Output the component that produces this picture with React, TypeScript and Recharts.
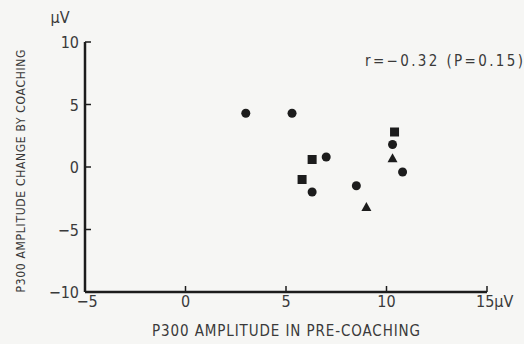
import { ScatterChart, Scatter, XAxis, YAxis } from "recharts";

// values (µV)
const circleX = [3.0, 5.3, 7.0, 6.3, 8.5, 10.3, 10.8];
const circleY = [4.3, 4.3, 0.8, -2.0, -1.5, 1.8, -0.4];
const squareX = [6.3, 5.8, 10.4];
const squareY = [0.6, -1.0, 2.8];
const triangleX = [9.0, 10.3];
const triangleY = [-3.2, 0.7];

const xTicks = [-5, 0, 5, 10, 15];
const yTicks = [-10, -5, 0, 5, 10];

const xTitle = "P300 AMPLITUDE IN PRE-COACHING";
const yTitle = "P300 AMPLITUDE CHANGE BY COACHING";
const unit = "μV";
const note = "r=−0.32 (P=0.15)";

const toPoints = (xs: number[], ys: number[]) => xs.map((x, i) => ({ x, y: ys[i] }));

const INK = "#1c1c1c";
const TEXT = "#3a3a3a";
const FONT = "'Liberation Sans Narrow', 'DejaVu Sans Condensed', 'Arial Narrow', 'Liberation Sans', sans-serif";
const fmt = (v: number) => (v < 0 ? `−${Math.abs(v)}` : `${v}`);

const XTick = (props: any) => {
  const { x, y, payload } = props;
  const axisY = y - 10;
  const v = payload.value;
  return (
    <g>
      {v !== -5 && <line x1={x} x2={x} y1={axisY} y2={axisY - 6} stroke={INK} strokeWidth={1.5} />}
      <text x={v === 15 ? x - 11 : x + (v === -5 ? 2 : 0)} y={axisY + 15} textAnchor={v === 15 ? "start" : "middle"}
        fill={TEXT} fontSize={16} fontFamily={FONT}>
        {fmt(v)}{v === 15 ? unit : ""}
      </text>
    </g>
  );
};

const YTick = (props: any) => {
  const { x, y, payload } = props;
  const axisX = x + 10;
  const v = payload.value;
  return (
    <g>
      {v !== -10 && <line x1={axisX} x2={axisX + 6} y1={y} y2={y} stroke={INK} strokeWidth={1.5} />}
      <text x={axisX - 6} y={y + 6} textAnchor="end" fill={TEXT} fontSize={16} fontFamily={FONT}>
        {fmt(v)}
      </text>
    </g>
  );
};

const Dot = (p: any) => <circle cx={p.cx} cy={p.cy} r={4.5} fill={INK} />;
const Square = (p: any) => <rect x={p.cx - 4.5} y={p.cy - 4.5} width={9} height={9} fill={INK} />;
const Tri = (p: any) => (
  <polygon points={`${p.cx},${p.cy - 5} ${p.cx + 5},${p.cy + 4} ${p.cx - 5},${p.cy + 4}`} fill={INK} />
);

export default function App() {
  return (
    <div style={{ position: "absolute", left: 0, top: 0, width: 524, height: 344, background: "#f6f6f4" }}>
      <ScatterChart width={524} height={344} margin={{ top: 42, right: 37, bottom: 0, left: 0 }}>
        <XAxis
          type="number"
          dataKey="x"
          domain={[-5, 15]}
          ticks={xTicks}
          height={52}
          tickSize={6}
          tickMargin={4}
          tickLine={false}
          axisLine={{ stroke: INK, strokeWidth: 2.5 }}
          tick={<XTick />}
          interval={0}
          label={{
            content: () => (
              <text x={286} y={336} textAnchor="middle" fill={TEXT} fontSize={15} fontFamily={FONT}
                textLength={268} lengthAdjust="spacing">
                {xTitle}
              </text>
            ),
          }}
        />
        <YAxis
          type="number"
          dataKey="y"
          domain={[-10, 10]}
          ticks={yTicks}
          width={85}
          tickSize={6}
          tickMargin={4}
          tickLine={false}
          axisLine={{ stroke: INK, strokeWidth: 2.5 }}
          tick={<YTick />}
          interval={0}
          label={{
            content: () => (
              <g>
                <text x={60} y={23} textAnchor="middle" fill={TEXT} fontSize={16} fontFamily={FONT}>
                  {unit}
                </text>
                <text transform="translate(25,171) rotate(-90)" textAnchor="middle" fill={TEXT} fontSize={12}
                  fontFamily={FONT} textLength={243} lengthAdjust="spacing">
                  {yTitle}
                </text>
                <text x={365} y={66} fill={TEXT} fontSize={15} fontFamily={FONT} textLength={158}
                  lengthAdjust="spacing">
                  {note}
                </text>
              </g>
            ),
          }}
        />
        <Scatter data={toPoints(circleX, circleY)} shape={<Dot />} isAnimationActive={false} />
        <Scatter data={toPoints(squareX, squareY)} shape={<Square />} isAnimationActive={false} />
        <Scatter data={toPoints(triangleX, triangleY)} shape={<Tri />} isAnimationActive={false} />
      </ScatterChart>
    </div>
  );
}
